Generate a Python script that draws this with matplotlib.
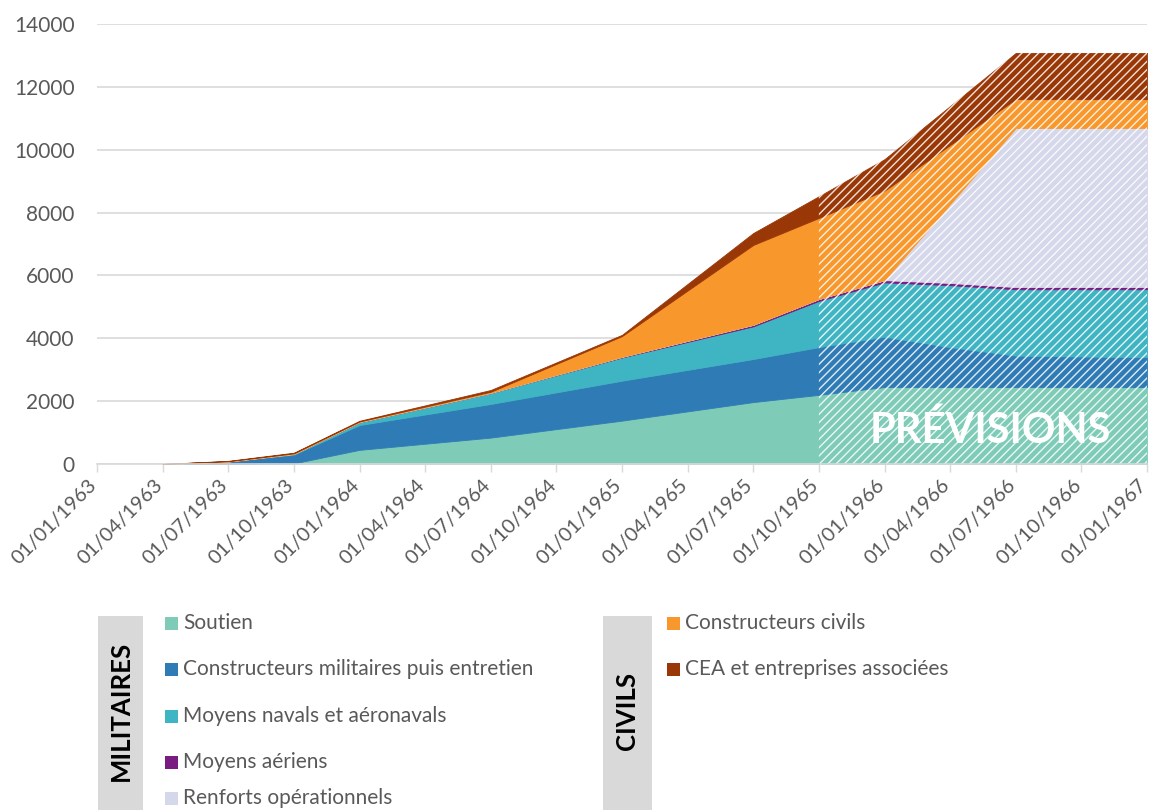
import matplotlib
matplotlib.use("Agg")
import matplotlib.pyplot as plt
from matplotlib.patches import Rectangle
from matplotlib.transforms import ScaledTranslation
import numpy as np

# ---------------- data ----------------
dates = ['01/04/1963', '01/07/1963', '01/10/1963', '01/01/1964', '01/07/1964',
         '01/01/1965', '01/07/1965', '01/10/1965', '01/01/1966', '01/04/1966',
         '01/07/1966', '01/10/1966', '01/01/1967']
soutien = [0, 0, 20, 450, 840, 1380, 1970, 2200, 2450, 2450, 2450, 2450, 2450]
constructeurs_mil = [0, 80, 280, 790, 1070, 1270, 1370, 1520, 1600, 1270, 1000, 970, 950]
navals = [0, 0, 20, 90, 350, 740, 1040, 1470, 1730, 1970, 2110, 2140, 2160]
aeriens = [0, 0, 0, 5, 5, 20, 50, 60, 70, 70, 70, 70, 70]
renforts = [0, 0, 0, 0, 0, 0, 0, 0, 0, 2510, 5060, 5060, 5060]
civils = [0, 10, 20, 20, 35, 660, 2540, 2580, 2850, 1880, 920, 920, 920]
cea = [0, 10, 20, 20, 55, 40, 380, 690, 1000, 1240, 1470, 1470, 1470]

series_names = ['Soutien', 'Constructeurs militaires puis entretien',
                'Moyens navals et aéronavals', 'Moyens aériens',
                'Renforts opérationnels', 'Constructeurs civils',
                'CEA et entreprises associées']
colors = ['#7ecbb7', '#2e7bb6', '#3fb4c3', '#7a1b82', '#d5d7ea', '#f8972c', '#9a3706']

tick_labels = ['01/01/1963', '01/04/1963', '01/07/1963', '01/10/1963',
               '01/01/1964', '01/04/1964', '01/07/1964', '01/10/1964',
               '01/01/1965', '01/04/1965', '01/07/1965', '01/10/1965',
               '01/01/1966', '01/04/1966', '01/07/1966', '01/10/1966',
               '01/01/1967']
forecast_start = '01/10/1965'
y_ticks = [0, 2000, 4000, 6000, 8000, 10000, 12000, 14000]


def qindex(s):
    d, m, y = (int(v) for v in s.split('/'))
    return (y - 1963) * 4 + (m - 1) / 3 + (d - 1) / 91.0


x = np.array([qindex(d) for d in dates])
series = [soutien, constructeurs_mil, navals, aeriens, renforts, civils, cea]

plt.rcParams['font.family'] = ['Lato', 'DejaVu Sans']
plt.rcParams['hatch.linewidth'] = 1.0

W, H = 1152, 810
fig = plt.figure(figsize=(W / 100, H / 100), dpi=100)
ax = fig.add_axes([97 / W, 1 - 464 / H, 1050 / W, 440 / H])

polys = ax.stackplot(x, *series, colors=colors, linewidth=0.6, zorder=2)
for p, c in zip(polys, colors):
    p.set_edgecolor(c)

# forecast hatch
total = np.sum(np.array(series), axis=0)
fx = qindex(forecast_start)
m = x >= fx - 1e-9
ax.fill_between(x[m], 0, total[m], facecolor='none', edgecolor=(1, 1, 1, 0.85),
                hatch='////', linewidth=0, zorder=3)
ax.text(qindex('01/01/1966') + 1.61, 668, 'PRÉVISIONS', color='white', fontsize=30,
        fontweight='bold', ha='center', va='baseline', zorder=4)

ticks = [qindex(t) for t in tick_labels]
ax.set_xlim(ticks[0], ticks[-1])
ax.set_ylim(0, 14000)
ax.set_xticks(ticks)
ax.set_xticklabels([])
lbl_tr = ax.get_xaxis_transform() + ScaledTranslation(-9 / 100, -12 / 100, fig.dpi_scale_trans)
for t, lab in zip(ticks, tick_labels):
    ax.text(t, 0, lab, transform=lbl_tr, rotation=45, ha='right', va='top',
            rotation_mode='anchor', fontsize=14.5, color='#595959', clip_on=False)
ax.set_yticks(y_ticks)
ax.set_yticklabels([str(v) for v in y_ticks], fontsize=15, color='#595959')
ax.tick_params(axis='y', length=0, pad=16)
ax.tick_params(axis='x', direction='out', length=6, width=1, color='#d9d9d9', pad=4)
ax.grid(axis='y', color='#d9d9d9', linewidth=1.2, zorder=0)
ax.set_axisbelow(True)
for s in ['top', 'right', 'left']:
    ax.spines[s].set_visible(False)
ax.spines['bottom'].set_color('#d9d9d9')
ax.spines['bottom'].set_linewidth(1.2)
ax.spines['bottom'].set_zorder(5)


# ---------------- legend ----------------
def fx_(px):
    return px / W


def fy_(py):
    return 1 - py / H


for (bx0, bx1, label) in [(98, 143, 'MILITAIRES'), (603, 652, 'CIVILS')]:
    fig.patches.append(Rectangle((fx_(bx0), 0), fx_(bx1 - bx0), (810 - 616) / H,
                                 transform=fig.transFigure, facecolor='#d9d9d9',
                                 edgecolor='none'))
    fig.text(fx_((bx0 + bx1) / 2), fy_(711), label, rotation=90, ha='center',
             va='center', fontsize=18.5, fontweight='bold', color='black')

entries = [(0, 165, 623), (1, 165, 669), (2, 165, 716), (3, 165, 762), (4, 165, 798),
           (5, 667, 623), (6, 667, 669)]
for idx, sx, cy in entries:
    fig.patches.append(Rectangle((fx_(sx), fy_(cy + 6.5)), fx_(13), 13 / H,
                                 transform=fig.transFigure, facecolor=colors[idx],
                                 edgecolor='none'))
    fig.text(fx_(sx + 18), fy_(cy), series_names[idx], ha='left', va='center',
             fontsize=15, color='#595959')

fig.savefig('out.png', dpi=100)
